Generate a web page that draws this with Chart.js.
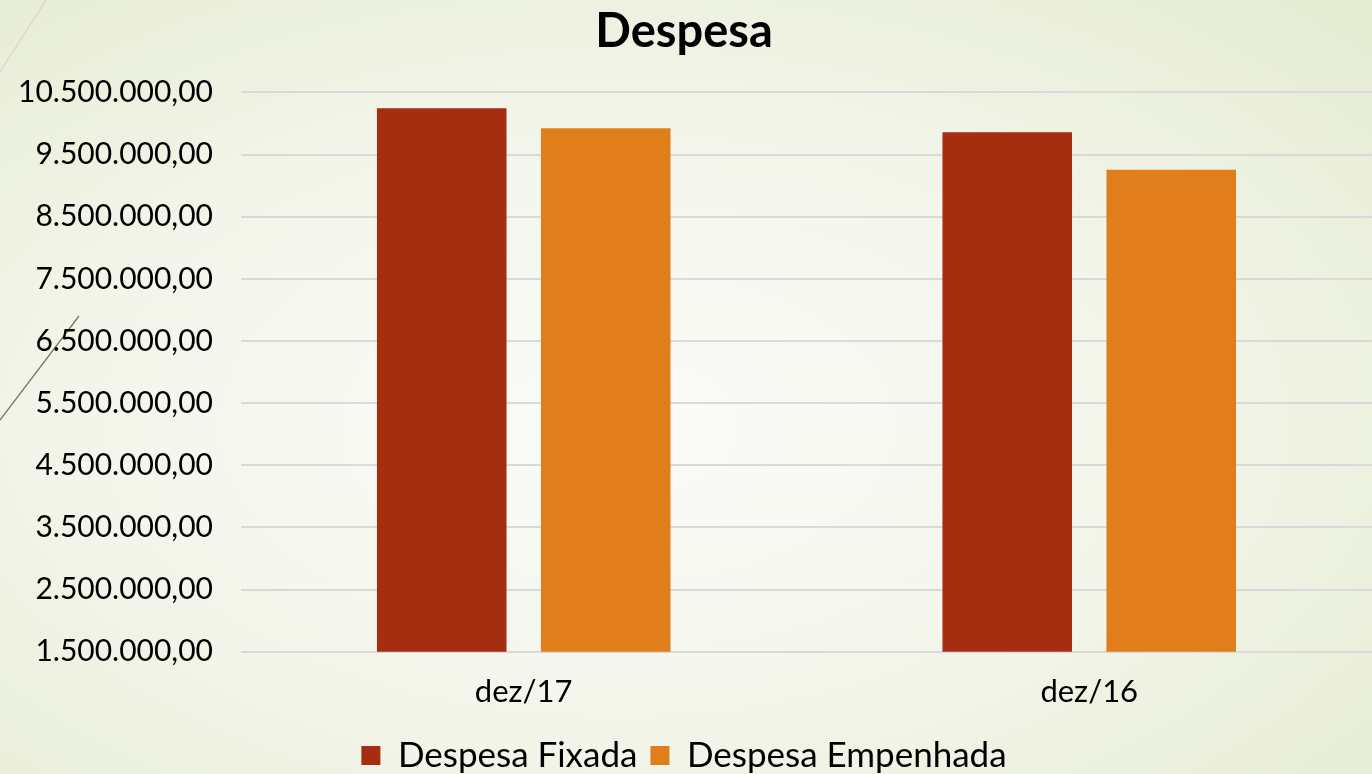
<!DOCTYPE html>
<html>
<head>
<meta charset="utf-8">
<script src="https://cdn.jsdelivr.net/npm/chart.js@4.4.1/dist/chart.umd.min.js"></script>
<style>
  html, body { margin: 0; padding: 0; }
  body {
    width: 1372px; height: 774px; overflow: hidden;
    background: radial-gradient(ellipse at 45% 55%, #fbfbf8 0%, #f4f6ec 45%, #e5ebd2 100%);
  }
  #wrap { position: relative; width: 1372px; height: 774px; }
</style>
</head>
<body>
<div id="wrap"><canvas id="despesaChart" width="1372" height="774"></canvas></div>
<script>
// dados
const categorias = ['dez/17', 'dez/16'];
const despesaFixada = [10245000, 9860000];
const despesaEmpenhada = [9925000, 9255000];
const eixoMin = 1500000;
const eixoMax = 10500000;
const eixoPasso = 1000000;

const fonte = 'Lato, "DejaVu Sans", sans-serif';

// linhas decorativas do fundo
const decoracao = {
    id: 'decoracao',
    beforeDraw(chart) {
        const c = chart.ctx;
        c.save();
        c.strokeStyle = '#cfcfc4';
        c.lineWidth = 1;
        c.beginPath();
        c.moveTo(46, 0);
        c.lineTo(0, 72);
        c.stroke();
        c.strokeStyle = '#7d7560';
        c.lineWidth = 1.3;
        c.beginPath();
        c.moveTo(79, 316);
        c.lineTo(0, 420);
        c.stroke();
        c.restore();
    }
};

new Chart(document.getElementById('despesaChart'), {
    type: 'bar',
    data: {
        labels: categorias,
        datasets: [
            {
                label: 'Despesa Fixada',
                data: despesaFixada,
                backgroundColor: '#a52e11',
            },
            {
                label: 'Despesa Empenhada',
                data: despesaEmpenhada,
                backgroundColor: '#df7e1a',
            }
        ]
    },
    options: {
        responsive: false,
        animation: false,
        categoryPercentage: 0.58,
        barPercentage: 0.79,
        layout: { padding: { left: -10, right: -6, top: 0, bottom: -9 } },
        plugins: {
            title: {
                display: true,
                text: 'Despesa',
                color: '#000',
                font: { family: fonte, size: 47, weight: 'bold' },
                padding: { top: 4, bottom: 32 }
            },
            legend: {
                position: 'bottom',
                labels: {
                    color: '#000',
                    font: { family: fonte, size: 35 },
                    boxWidth: 19,
                    boxHeight: 19,
                    padding: 13
                }
            },
            tooltip: { enabled: false }
        },
        scales: {
            x: {
                grid: { display: false },
                border: { display: false },
                ticks: {
                    color: '#000',
                    font: { family: fonte, size: 31 },
                    padding: 14
                }
            },
            y: {
                min: eixoMin,
                max: eixoMax,
                border: { display: false },
                grid: { color: '#d9d9d9', lineWidth: 2, drawTicks: false },
                ticks: {
                    stepSize: eixoPasso,
                    color: '#000',
                    padding: 28,
                    font: { family: fonte, size: 30 },
                    callback: v => v.toLocaleString('pt-BR', { minimumFractionDigits: 2, maximumFractionDigits: 2 })
                }
            }
        }
    },
    plugins: [decoracao]
});
</script>
</body>
</html>
